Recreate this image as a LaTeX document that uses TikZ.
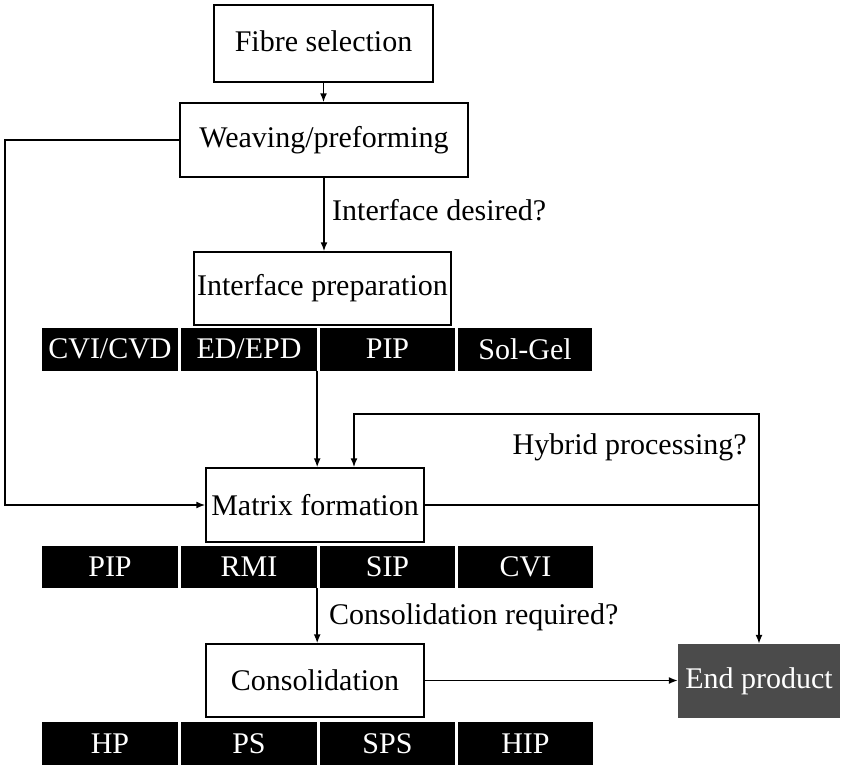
\documentclass[tikz,border=0pt]{standalone}
\usepackage{fontspec}
\setmainfont{Liberation Serif}
\usetikzlibrary{arrows.meta}
\definecolor{endgray}{HTML}{4B4B4B}
\begin{document}
\begin{tikzpicture}[x=1pt,y=-1pt,
  every node/.style={font=\fontsize{30}{36}\selectfont, inner sep=0pt},
  box/.style={draw=black, line width=1.5pt, fill=white, align=center},
  bar/.style={fill=black, text=white, minimum height=43pt},
  lbl/.style={text=black},
  arr/.style={line width=1.5pt, -{Latex[length=9pt,width=7pt]}},
  ln/.style={line width=1.5pt}]
\useasboundingbox (0,0) rectangle (844,769);

% main boxes
\node[box, minimum width=219pt, minimum height=77pt] (fibre) at (323.5,43.5) {\raisebox{4pt}{Fibre selection}};
\node[box, minimum width=288pt, minimum height=74pt] (weave) at (324,140) {Weaving/preforming};
\node[box, minimum width=257pt, minimum height=73pt] (inter) at (322.5,288.5) {Interface preparation};
\node[box, minimum width=218pt, minimum height=74pt] (matrix) at (315,505) {Matrix formation};
\node[box, minimum width=218pt, minimum height=73pt] (cons) at (315,680.5) {Consolidation};
\node[fill=endgray, text=white, minimum width=162pt, minimum height=74pt] (endp) at (759,681) {End product};

% bars row 1
\node[bar, minimum width=136pt] (b1a) at (110,349) {CVI/CVD};
\node[bar, minimum width=136pt] (b1b) at (249,349) {ED/EPD};
\node[bar, minimum width=135pt] (b1c) at (387.5,349) {PIP};
\node[bar, minimum width=134pt] (b1d) at (525,349) {Sol-Gel};
% bars row 2
\node[bar, minimum width=136pt, minimum height=42pt] (b2a) at (110,567) {PIP};
\node[bar, minimum width=136pt, minimum height=42pt] (b2b) at (249,567) {RMI};
\node[bar, minimum width=135pt, minimum height=42pt] (b2c) at (387.5,567) {SIP};
\node[bar, minimum width=135pt, minimum height=42pt] (b2d) at (525.5,567) {CVI};
% bars row 3
\node[bar, minimum width=136pt] (b3a) at (110,743.5) {HP};
\node[bar, minimum width=136pt] (b3b) at (249,743.5) {PS};
\node[bar, minimum width=135pt] (b3c) at (387.5,743.5) {SPS};
\node[bar, minimum width=135pt] (b3d) at (525.5,743.5) {HIP};

% labels
\node[lbl, anchor=west] (qint) at (332,210) {Interface desired?};
\node[lbl, anchor=east] (qhyb) at (747,447) {Hybrid processing?};
\node[lbl, anchor=west] (qcons) at (329,617) {Consolidation required?};

% coordinates
\coordinate (hyb) at (354,414);
\coordinate (lft) at (5,140);

% connectors
\draw[arr] (fibre.south) -- (fibre.south |- weave.north);
\draw[arr] (weave.south) -- (weave.south |- inter.north);
\draw[arr] (weave.west) -- (lft) |- (matrix.west);
\draw[arr] (b1b.south east) -- (b1b.south east |- matrix.north);
\draw[arr] (matrix.east) -| (endp.north);
\draw[arr] (matrix.east -| endp.north) |- (hyb) -- (hyb |- matrix.north);
\draw[arr] (b2b.south east) -- (b2b.south east |- cons.north);
\draw[arr] (cons.east) -- (cons.east -| endp.west);
\end{tikzpicture}
\end{document}
